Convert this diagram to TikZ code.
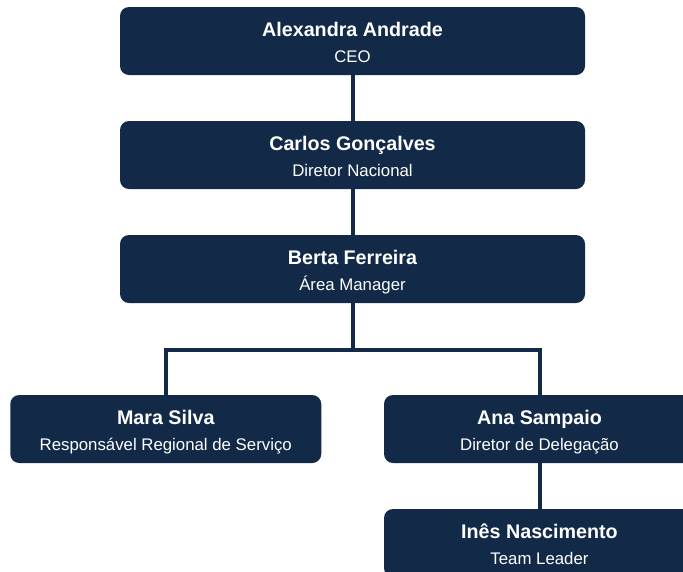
\documentclass[tikz,border=0pt]{standalone}
\usepackage{fontspec}
\setmainfont{Liberation Sans}
\usepackage{tikz}
\usepackage{xcolor}
\usetikzlibrary{positioning}

\definecolor{marinho}{HTML}{122A47}
\newcommand{\nomefont}{\fontsize{19.7}{22}\selectfont\bfseries}
\newcommand{\funcaofont}{\fontsize{16.8}{19}\selectfont}

\tikzset{
  cargo/.style={fill=marinho, rounded corners=9pt, minimum width=#1, minimum height=68pt, inner sep=0pt},
  cargo/.default=311pt,
  nome/.style={text=white, font=\nomefont, anchor=base, inner sep=0pt},
  funcao/.style={text=white, font=\funcaofont, anchor=base, inner sep=0pt},
  ligacao/.style={draw=marinho, line width=4pt}
}

\begin{document}
\begin{tikzpicture}[x=1pt, y=-1pt]
        \useasboundingbox (0,0) rectangle (683,571);
        \clip (0,0) rectangle (683,571);

        \node[cargo=465pt] (alexandra) at (352.5, 41) {};
        \node[cargo=465pt] (carlos) at (352.5, 155) {};
        \node[cargo=465pt] (berta) at (352.5, 269) {};
        \node[cargo] (mara) at (165.75, 429) {};
        \node[cargo] (ana) at (539.5, 429) {};
        \node[cargo] (ines) at (539.5, 543) {};

        \node[nome] (alexandraN) at ([yshift=4.5pt]alexandra.center) {Alexandra Andrade};
        \node[funcao] (alexandraF) at ([yshift=-21pt]alexandra.center) {CEO};
        \node[nome] (carlosN) at ([yshift=4.5pt]carlos.center) {Carlos Gonçalves};
        \node[funcao] (carlosF) at ([yshift=-21pt]carlos.center) {Diretor Nacional};
        \node[nome] (bertaN) at ([yshift=4.5pt]berta.center) {Berta Ferreira};
        \node[funcao] (bertaF) at ([yshift=-21pt]berta.center) {Área Manager};
        \node[nome] (maraN) at ([yshift=4.5pt]mara.center) {Mara Silva};
        \node[funcao] (maraF) at ([yshift=-21pt]mara.center) {Responsável Regional de Serviço};
        \node[nome] (anaN) at ([yshift=4.5pt]ana.center) {Ana Sampaio};
        \node[funcao] (anaF) at ([yshift=-21pt]ana.center) {Diretor de Delegação};
        \node[nome] (inesN) at ([yshift=4.5pt]ines.center) {Inês Nascimento};
        \node[funcao] (inesF) at ([yshift=-21pt]ines.center) {Team Leader};

        \coordinate (juncao) at (352.5, 350);

        \draw[ligacao] (alexandra) -- (carlos);
        \draw[ligacao] (carlos) -- (berta);
        \draw[ligacao] (berta) -- (juncao);
        \draw[ligacao] (mara.north) |- (juncao) -| (ana.north);
        \draw[ligacao] (ana) -- (ines);
    \end{tikzpicture}
\end{document}
